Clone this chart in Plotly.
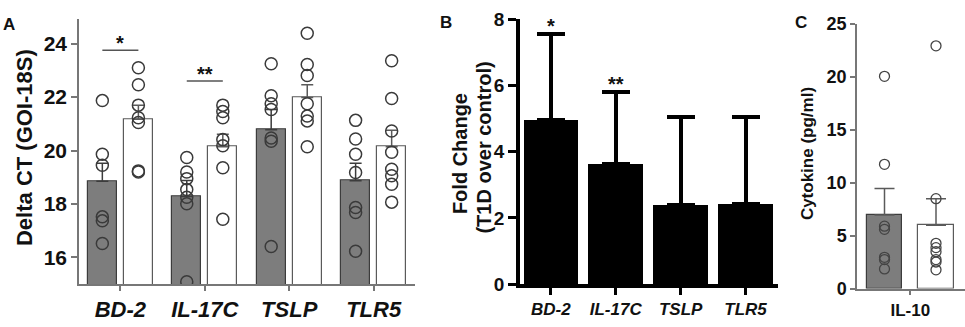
import plotly.graph_objects as go

W, H = 965, 327

# ---------------- DATA ----------------
genes = ["BD-2", "IL-17C", "TSLP", "TLR5"]

# Panel A: Delta CT (GOI-18S)
a_ctrl_mean = [18.85, 18.28, 20.78, 18.87]
a_ctrl_sem = [0.68, 0.60, 0.76, 0.66]
a_t1d_mean = [21.17, 20.14, 21.99, 20.14]
a_t1d_sem = [0.53, 0.47, 0.47, 0.62]
a_ctrl_points = [
    [21.87, 19.86, 19.45, 17.52, 17.37, 16.52],
    [19.74, 19.20, 18.95, 18.54, 18.25, 18.01, 15.09],
    [23.25, 22.05, 21.75, 21.54, 20.47, 20.35, 16.41],
    [21.13, 20.43, 19.86, 19.18, 17.87, 17.68, 16.23],
]
a_t1d_points = [
    [23.10, 22.46, 21.70, 21.23, 21.05, 19.24, 19.20],
    [21.70, 21.46, 21.23, 20.41, 20.18, 19.36, 17.43],
    [24.39, 23.22, 22.81, 21.75, 21.29, 21.11, 20.14],
    [23.36, 21.95, 20.73, 19.94, 19.30, 19.06, 18.74, 18.07],
]
a_sig_genes = ["BD-2", "IL-17C"]
a_sig_text = ["*", "**"]
a_sig_level = [23.75, 22.60]

# Panel B: Fold change (T1D over control)
b_mean = [4.96, 3.63, 2.38, 2.42]
b_sd = [2.61, 2.18, 2.68, 2.62]
b_sig = ["*", "**", "", ""]

# Panel C: Cytokine IL-10 (pg/ml)
c_cat = ["IL-10"]
c_ctrl_mean = [6.96]
c_ctrl_sem = [2.51]
c_t1d_mean = [5.99]
c_t1d_sem = [2.51]
c_ctrl_points = [20.06, 11.74, 5.90, 5.60, 2.95, 2.74, 1.86]
c_t1d_points = [22.94, 8.50, 4.28, 3.87, 3.48, 2.74, 2.51, 1.77]

# ---------------- STYLE ----------------
FONT = "Liberation Sans, Arial, sans-serif"
GRAY_BAR = "#7d7d7d"
GRAY_EDGE = "#3c3c3c"
WHITE_EDGE = "#5a5a5a"
AX_GRAY = "#777777"
PT_COLOR = "#3a3a3a"


def fx(px):
    return px / W


def fy(py):
    return 1 - py / H


fig = go.Figure()

# ---------- Panel A ----------
offA = 0.2135
bwA = 0.344
idx = list(range(len(genes)))
fig.add_trace(go.Bar(
    x=[i - offA for i in idx], y=a_ctrl_mean, width=bwA,
    marker=dict(color=GRAY_BAR, line=dict(color=GRAY_EDGE, width=1.2)),
    error_y=dict(type="data", array=a_ctrl_sem, arrayminus=[0] * len(idx), symmetric=False,
                 color=GRAY_EDGE, thickness=1.5, width=6),
    xaxis="x", yaxis="y"))
fig.add_trace(go.Bar(
    x=[i + offA for i in idx], y=a_t1d_mean, width=bwA,
    marker=dict(color="white", line=dict(color=WHITE_EDGE, width=1.2)),
    error_y=dict(type="data", array=a_t1d_sem, arrayminus=[0] * len(idx), symmetric=False,
                 color=WHITE_EDGE, thickness=1.5, width=6),
    xaxis="x", yaxis="y"))
for i, pts in enumerate(a_ctrl_points):
    fig.add_trace(go.Scatter(
        x=[i - offA] * len(pts), y=pts, mode="markers",
        marker=dict(symbol="circle-open", size=12, color=PT_COLOR, line=dict(width=1.5)),
        xaxis="x", yaxis="y"))
for i, pts in enumerate(a_t1d_points):
    fig.add_trace(go.Scatter(
        x=[i + offA] * len(pts), y=pts, mode="markers",
        marker=dict(symbol="circle-open", size=12, color=PT_COLOR, line=dict(width=1.5)),
        xaxis="x", yaxis="y"))

shapes = []
annotations = []
for g, t, lvl in zip(a_sig_genes, a_sig_text, a_sig_level):
    i = genes.index(g)
    shapes.append(dict(type="line", xref="x", yref="y", x0=i - offA, x1=i + offA,
                       y0=lvl, y1=lvl, line=dict(color="#555555", width=1.5)))
    annotations.append(dict(x=i, y=lvl, xref="x", yref="y", text="<b>%s</b>" % t,
                            showarrow=False, yanchor="bottom", yshift=-6,
                            font=dict(family=FONT, size=20, color="#111")))

# ---------- Panel B ----------
bidx = list(range(len(genes)))
fig.add_trace(go.Bar(
    x=bidx, y=b_mean, width=0.84,
    marker=dict(color="black", line=dict(color="black", width=0)),
    error_y=dict(type="data", array=b_sd, arrayminus=[0] * len(bidx), symmetric=False,
                 color="black", thickness=4, width=14),
    xaxis="x2", yaxis="y2"))
for i, (m, s, t) in enumerate(zip(b_mean, b_sd, b_sig)):
    if t:
        annotations.append(dict(x=i, y=m + s, xref="x2", yref="y2", text="<b>%s</b>" % t,
                                showarrow=False, yanchor="bottom", yshift=-5,
                                font=dict(family=FONT, size=20, color="#111")))

# ---------- Panel C ----------
offC = 0.5
bwC = 0.69
fig.add_trace(go.Bar(
    x=[-offC], y=c_ctrl_mean, width=bwC,
    marker=dict(color=GRAY_BAR, line=dict(color=GRAY_EDGE, width=1.2)),
    error_y=dict(type="data", array=c_ctrl_sem, arrayminus=[0], symmetric=False,
                 color=WHITE_EDGE, thickness=1.5, width=10),
    xaxis="x3", yaxis="y3"))
fig.add_trace(go.Bar(
    x=[offC], y=c_t1d_mean, width=bwC,
    marker=dict(color="white", line=dict(color=WHITE_EDGE, width=1.2)),
    error_y=dict(type="data", array=c_t1d_sem, arrayminus=[0], symmetric=False,
                 color=WHITE_EDGE, thickness=1.5, width=10),
    xaxis="x3", yaxis="y3"))
fig.add_trace(go.Scatter(
    x=[-offC] * len(c_ctrl_points), y=c_ctrl_points, mode="markers",
    marker=dict(symbol="circle-open", size=10, color="#444", line=dict(width=1.3)),
    xaxis="x3", yaxis="y3"))
fig.add_trace(go.Scatter(
    x=[offC] * len(c_t1d_points), y=c_t1d_points, mode="markers",
    marker=dict(symbol="circle-open", size=10, color="#444", line=dict(width=1.3)),
    xaxis="x3", yaxis="y3"))

# ---------- titles / panel letters ----------
def vtitle(x, y, text, size):
    annotations.append(dict(x=fx(x), y=fy(y), xref="paper", yref="paper", text="<b>%s</b>" % text,
                            textangle=-90, showarrow=False, xanchor="center", yanchor="middle",
                            font=dict(family=FONT, size=size, color="#111")))


vtitle(24, 147.5, "Delta CT (GOI-18S)", 22)
vtitle(460, 154, "Fold Change", 20)
vtitle(484, 147, "(T1D over control)", 20)
vtitle(807, 154, "Cytokine (pg/ml)", 17)

for letter, x, y in [("A", 9, 15), ("B", 446, 13), ("C", 801, 13)]:
    annotations.append(dict(x=fx(x), y=fy(y), xref="paper", yref="paper", text="<b>%s</b>" % letter,
                            showarrow=False, xanchor="center", yanchor="middle",
                            font=dict(family=FONT, size=17, color="#111")))

common = dict(showgrid=False, zeroline=False, ticks="outside")

fig.update_layout(
    width=W, height=H, margin=dict(l=0, r=0, t=0, b=0),
    paper_bgcolor="white", plot_bgcolor="white", showlegend=False,
    barmode="overlay", bargap=0,
    font=dict(family=FONT, color="#111"),
    xaxis=dict(domain=[fx(79), fx(415)], range=[-0.49, 3.49], tickvals=idx,
               ticktext=["<b><i>%s</i></b>" % g for g in genes],
               showline=True, linecolor=AX_GRAY, linewidth=1.5, tickcolor=AX_GRAY,
               tickwidth=1.5, ticklen=5, tickfont=dict(family=FONT, size=22, color="#111"),
               anchor="y", **common),
    yaxis=dict(domain=[fy(293), fy(10)], range=[15, 24.91], tickvals=[16, 18, 20, 22, 24],
               ticktext=["<b>%d</b>" % v for v in [16, 18, 20, 22, 24]],
               showline=True, linecolor=AX_GRAY, linewidth=1.5, tickcolor=AX_GRAY,
               tickwidth=1.5, ticklen=6, tickfont=dict(family=FONT, size=21, color="#111"),
               anchor="x", **common),
    xaxis2=dict(domain=[fx(520), fx(778)], range=[-0.475, 3.5], tickvals=bidx,
                ticktext=["<b><i>%s</i></b>" % g for g in genes],
                showline=True, linecolor="black", linewidth=3.5, tickcolor="black",
                tickwidth=3, ticklen=7, tickfont=dict(family=FONT, size=17, color="#111"),
                anchor="y2", **common),
    yaxis2=dict(domain=[fy(293), fy(10)], range=[0, 8], tickvals=[0, 2, 4, 6, 8],
                ticktext=["<b>%d</b>" % v for v in [0, 2, 4, 6, 8]],
                showline=True, linecolor="black", linewidth=3.5, tickcolor="black",
                tickwidth=3, ticklen=8, tickfont=dict(family=FONT, size=19, color="#111"),
                anchor="x2", **common),
    xaxis3=dict(domain=[fx(857), 1.0], range=[-1.034, 1.063], tickvals=[0],
                ticktext=["<b>%s</b>" % c for c in c_cat],
                showline=True, linecolor=AX_GRAY, linewidth=1.5, tickcolor=AX_GRAY,
                tickwidth=1.5, ticklen=5, tickfont=dict(family=FONT, size=17, color="#111"),
                anchor="y3", **common),
    yaxis3=dict(domain=[fy(297.7), fy(15)], range=[0, 25], tickvals=[0, 5, 10, 15, 20, 25],
                ticktext=["<b>%d</b>" % v for v in [0, 5, 10, 15, 20, 25]],
                showline=True, linecolor=AX_GRAY, linewidth=1.5, tickcolor=AX_GRAY,
                tickwidth=1.5, ticklen=5, tickfont=dict(family=FONT, size=18, color="#111"),
                anchor="x3", **common),
    shapes=shapes, annotations=annotations,
)

fig.write_html(
    "out.html",
    config={"displayModeBar": False},
    post_script="document.body.style.margin='0px';document.body.style.padding='0px';"
                "document.documentElement.style.overflow='hidden';",
)
